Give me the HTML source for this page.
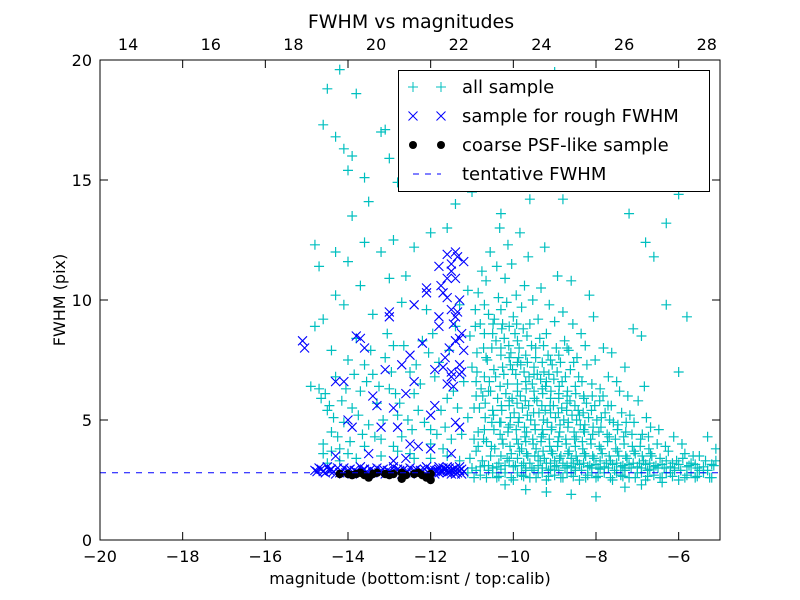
<!DOCTYPE html>
<html><head><meta charset="utf-8"><style>
html,body{margin:0;padding:0;background:#fff;}
svg{display:block;font-family:"DejaVu Sans","Liberation Sans",sans-serif;}
</style></head><body>
<svg id="chart" width="800" height="600" xmlns="http://www.w3.org/2000/svg">
<rect x="0" y="0" width="800" height="600" fill="#fff"/>
<g id="marks"></g>
<g id="axes"></g>
</svg>
<script>
const xTicks=[-20,-18,-16,-14,-12,-10,-8,-6];
const xTickLabels=["\u221220","\u221218","\u221216","\u221214","\u221212","\u221210","\u22128","\u22126"];
const topTicks=[14,16,18,20,22,24,26,28];
const yTicks=[0,5,10,15,20];
const topOffset=33.32;
const tentativeFWHM=2.8;
// all sample (cyan +): x,y pairs
const allSample=[
-14.2,19.6,-13.8,18.6,-14.5,18.8,-14.6,17.3,-14.3,16.8,-14.1,16.3,-13.9,16.0,-14.0,15.4,-13.6,15.1,-13.2,17.0,-13.1,17.1,-12.6,17.3,-12.2,16.4,-13.0,15.9,-12.8,14.9,-13.5,14.1,-13.9,13.5,-14.8,12.3,-14.3,12.0,-14.0,11.6,-13.6,12.4,-13.2,12.0,-12.9,12.5,-12.4,12.2,-12.0,12.8,-11.6,13.0,-11.4,14.0,-11.0,14.5,-10.5,15.0,-10.0,16.0,-9.5,18.5,-9.0,19.5,-8.2,19.2,-7.8,19.0,-7.3,16.8,-6.6,14.9,-6.0,14.4,-6.8,12.4,-6.6,11.8,-6.3,9.8,-5.8,9.3,-6.9,8.5,-6.0,7.0,-8.5,17.5,-9.8,17.2,-8.8,14.2,-7.2,13.6,-6.3,13.2,-10.3,13.6,-9.6,14.2,-11.8,16.5,-11.2,17.0,
-14.9,6.4,-14.7,6.3,-14.5,5.4,-14.4,4.5,-14.6,4.0,-14.2,3.8,-14.1,4.9,-14.3,6.8,-14.0,7.5,-13.8,8.4,-13.7,6.2,-13.9,5.5,-13.5,4.8,-13.3,5.7,-13.4,6.9,-13.1,7.6,-13.0,6.3,-12.8,5.2,-12.7,4.3,-12.9,3.9,-12.5,7.0,-12.4,6.1,-12.3,5.4,-12.2,8.3,-12.1,9.6,-12.0,4.6,-11.9,6.8,-11.8,7.4,-11.6,5.9,-11.5,4.2,-11.4,8.9,-11.3,9.8,-11.2,6.6,-14.6,9.2,-14.3,10.2,-14.7,11.4,-14.1,9.8,-13.7,10.6,-13.4,9.4,-13.0,10.9,-12.7,9.9,-12.6,11.0,-12.9,8.1,-13.6,7.3,-14.4,7.9,-14.8,8.9,-13.2,4.2,-12.5,3.6,-12.0,3.4,-11.7,3.8,-11.3,3.3,-13.8,3.4,-14.5,3.2,
-14.65,5.9,-14.55,6.1,-14.45,5.6,-14.35,5.1,-14.25,4.3,-14.15,5.8,-14.05,6.3,-13.95,4.1,-13.85,6.9,-13.75,5.2,-13.65,4.4,-13.55,6.6,-13.45,7.9,-13.35,4.3,-13.25,6.4,-13.15,5.0,-13.05,8.6,-12.95,7.0,-12.85,6.1,-12.75,5.7,-12.65,8.1,-12.55,5.0,-12.45,4.6,-12.35,7.3,-12.25,6.5,-12.15,4.9,-12.05,7.8,-11.95,8.6,-11.85,4.4,-11.75,5.4,-11.65,4.7,-11.55,7.9,-11.45,6.2,-11.35,5.5,-11.25,4.4,-14.6,3.6,-14.4,3.7,-14.2,3.3,-14.0,3.6,-13.6,3.9,-13.2,3.5,-12.8,3.7,-12.4,3.4,-12.0,4.0,-11.6,3.5,
-11.0,3.0,-11.05,3.4,-10.95,4.2,-11.1,5.1,-10.9,6.0,-11.0,7.2,-11.05,8.5,-10.92,9.6,-11.1,10.4,
-10.8,2.7,-10.75,3.3,-10.85,3.9,-10.7,4.6,-10.82,5.5,-10.78,6.3,-10.88,7.0,-10.72,8.0,-10.8,9.0,-10.85,10.3,-10.76,11.2,
-10.6,2.9,-10.55,3.5,-10.65,4.1,-10.52,4.9,-10.68,5.7,-10.58,6.6,-10.63,7.5,-10.5,8.6,-10.6,9.4,-10.66,10.8,-10.56,12.0,
-10.4,2.6,-10.35,3.2,-10.45,3.8,-10.32,4.4,-10.48,5.2,-10.38,5.9,-10.43,6.8,-10.3,7.7,-10.42,8.3,-10.46,9.2,-10.36,10.1,-10.4,11.4,-10.33,13.0,
-10.2,2.8,-10.15,3.4,-10.25,4.0,-10.12,4.7,-10.28,5.4,-10.18,6.1,-10.23,6.9,-10.1,7.6,-10.22,8.4,-10.26,9.0,-10.16,9.9,-10.2,10.9,-10.13,12.3,
-10.0,2.5,-9.95,3.1,-10.05,3.6,-9.92,4.2,-10.08,4.8,-9.98,5.3,-10.03,5.9,-9.9,6.5,-10.02,7.1,-10.06,7.8,-9.96,8.6,-10.0,9.3,-9.93,10.2,-10.04,11.5,
-9.8,2.7,-9.75,3.2,-9.85,3.7,-9.72,4.3,-9.88,4.9,-9.78,5.5,-9.83,6.0,-9.7,6.6,-9.82,7.3,-9.86,8.0,-9.76,8.8,-9.8,9.7,-9.73,10.6,-9.84,12.8,
-9.6,2.6,-9.55,3.0,-9.65,3.5,-9.52,4.0,-9.68,4.5,-9.58,5.0,-9.63,5.6,-9.5,6.2,-9.62,6.8,-9.66,7.4,-9.56,8.1,-9.6,9.0,-9.53,10.0,-9.64,11.8,
-9.4,2.8,-9.35,3.3,-9.45,3.8,-9.32,4.3,-9.48,4.8,-9.38,5.3,-9.43,5.8,-9.3,6.3,-9.42,6.9,-9.46,7.6,-9.36,8.4,-9.4,9.2,-9.33,10.5,
-9.2,2.5,-9.15,2.9,-9.25,3.4,-9.12,3.9,-9.28,4.4,-9.18,4.9,-9.23,5.4,-9.1,5.9,-9.22,6.4,-9.26,7.0,-9.16,7.7,-9.2,8.6,-9.13,9.8,-9.24,12.2,
-9.0,2.7,-8.95,3.1,-9.05,3.6,-8.92,4.1,-9.08,4.6,-8.98,5.1,-9.03,5.6,-8.9,6.1,-9.02,6.7,-9.06,7.3,-8.96,8.0,-9.0,9.1,-8.93,11.0,
-8.8,2.6,-8.75,3.0,-8.85,3.5,-8.72,4.0,-8.88,4.5,-8.78,5.0,-8.83,5.5,-8.7,6.0,-8.82,6.6,-8.86,7.4,-8.76,8.3,-8.8,9.5,
-8.6,2.8,-8.55,3.2,-8.65,3.7,-8.52,4.2,-8.68,4.7,-8.58,5.2,-8.63,5.8,-8.5,6.4,-8.62,7.1,-8.66,7.9,-8.56,9.0,-8.6,10.8,
-8.4,2.5,-8.35,2.9,-8.45,3.3,-8.32,3.8,-8.48,4.3,-8.38,4.8,-8.43,5.4,-8.3,6.0,-8.42,6.8,-8.46,7.6,-8.36,8.6,
-8.2,2.7,-8.15,3.1,-8.25,3.5,-8.12,4.0,-8.28,4.5,-8.18,5.1,-8.23,5.7,-8.1,6.5,-8.22,7.3,-8.26,8.1,-8.16,10.2,
-8.0,2.6,-7.95,3.0,-8.05,3.4,-7.92,3.9,-8.08,4.4,-7.98,5.0,-8.03,5.6,-7.9,6.3,-8.02,7.5,-8.06,9.3,
-7.8,2.8,-7.75,3.2,-7.85,3.6,-7.72,4.1,-7.88,4.7,-7.78,5.3,-7.83,6.0,-7.7,6.8,-7.82,8.0,
-7.6,2.5,-7.55,2.9,-7.65,3.3,-7.52,3.8,-7.68,4.3,-7.58,4.9,-7.63,5.6,-7.5,6.6,-7.62,7.8,
-7.4,2.7,-7.35,3.1,-7.45,3.5,-7.32,4.0,-7.48,4.6,-7.38,5.3,-7.43,6.2,-7.3,7.2,
-7.2,2.6,-7.15,3.0,-7.25,3.4,-7.12,3.9,-7.28,4.5,-7.18,5.2,-7.23,6.0,-7.1,8.8,
-7.0,2.8,-6.95,3.2,-7.05,3.6,-6.92,4.2,-7.08,4.9,-6.98,5.8,
-6.8,2.5,-6.75,2.9,-6.85,3.3,-6.72,3.8,-6.88,4.4,-6.78,5.1,-6.83,6.4,
-6.6,2.7,-6.55,3.1,-6.65,3.5,-6.52,4.0,-6.68,4.7,
-6.4,2.6,-6.35,3.0,-6.45,3.4,-6.32,3.9,-6.48,4.6,
-6.2,2.8,-6.15,3.2,-6.25,3.7,-6.12,4.3,
-6.0,2.5,-5.95,2.9,-6.05,3.3,-5.92,4.0,
-5.8,2.7,-5.75,3.1,-5.85,3.6,-5.6,2.6,-5.55,3.0,-5.65,3.5,-5.4,2.8,-5.35,3.3,-5.2,2.6,-5.15,3.1,-5.1,3.8,-5.3,4.3,
-10.9,2.9,-10.3,2.95,-9.7,2.9,-9.1,2.95,-8.5,2.9,-7.9,2.95,-7.3,2.9,-6.7,2.95,-6.1,2.9,-5.5,2.9,-11.1,2.8,-10.5,2.8,-9.9,2.8,-9.3,2.8,-8.7,2.8,-8.1,2.8,-7.5,2.8,-6.9,2.8,-6.3,2.8,-5.7,2.8,
-9.7,2.1,-9.2,2.0,-8.6,1.9,-8.0,1.8,-7.3,2.2,-10.2,2.3,-6.9,2.3,-6.4,2.4,
-9.9,6.2,-9.5,6.9,-9.1,5.3,-8.7,5.7,-9.3,4.6,-9.7,4.1,-10.1,5.6,-8.9,4.3,-8.5,3.9,-8.3,4.6,-9.8,3.8,-9.4,3.5,-9.0,3.3,-8.6,3.4,-10.3,4.9,-10.6,6.2,-9.9,7.4,-9.2,6.6,-8.9,5.9,-8.4,5.2,
-10.9,3.7,-10.85,4.5,-10.95,5.5,-10.9,6.6,-10.88,7.8,-10.92,8.9,-10.7,3.1,-10.72,4.2,-10.68,5.1,-10.74,6.0,-10.7,6.8,-10.66,7.6,-10.7,8.6,-10.7,9.8,
-10.5,3.0,-10.53,3.9,-10.47,4.6,-10.5,5.4,-10.55,6.2,-10.47,7.1,-10.52,8.0,-10.49,9.0,-10.3,3.5,-10.27,4.2,-10.33,4.9,-10.29,5.6,-10.32,6.4,-10.26,7.2,-10.3,8.0,-10.28,8.8,-10.3,9.6,
-10.1,3.3,-10.08,3.9,-10.13,4.5,-10.07,5.1,-10.1,5.8,-10.14,6.5,-10.07,7.3,-10.11,8.1,-10.1,8.9,-9.9,3.4,-9.88,4.0,-9.93,4.6,-9.86,5.1,-9.91,5.7,-9.94,6.9,-9.87,7.6,-9.9,8.3,-9.92,9.0,
-9.7,3.0,-9.68,3.6,-9.73,4.7,-9.66,5.2,-9.71,5.8,-9.69,6.3,-9.74,7.0,-9.7,7.7,-9.67,8.5,-9.5,2.9,-9.48,3.5,-9.53,4.2,-9.47,4.6,-9.51,5.3,-9.49,5.9,-9.54,6.5,-9.5,7.2,-9.46,8.0,
-9.3,3.0,-9.28,3.7,-9.33,4.1,-9.27,5.0,-9.31,5.6,-9.29,6.1,-9.34,6.7,-9.3,7.4,-9.27,8.1,-9.1,3.2,-9.08,3.7,-9.13,4.2,-9.07,4.7,-9.11,5.6,-9.09,6.2,-9.14,6.9,-9.1,7.5,
-8.9,2.9,-8.88,3.4,-8.93,3.9,-8.87,4.8,-8.91,5.3,-8.89,6.4,-8.94,7.0,-8.9,7.7,-8.7,3.1,-8.68,3.6,-8.73,4.2,-8.67,4.9,-8.71,5.4,-8.69,6.2,-8.74,6.8,-8.7,8.0,
-8.5,3.0,-8.48,3.5,-8.53,4.5,-8.47,5.0,-8.51,5.6,-8.49,6.1,-8.54,7.4,-8.3,3.2,-8.28,3.6,-8.33,4.1,-8.27,4.8,-8.31,5.3,-8.29,5.9,-8.34,6.6,
-8.1,3.0,-8.08,3.5,-8.13,4.2,-8.07,4.7,-8.11,5.4,-8.09,6.0,-7.9,3.3,-7.88,3.8,-7.93,4.5,-7.87,5.1,-7.91,5.8,-7.7,3.0,-7.68,3.5,-7.73,4.4,-7.67,5.0,-7.71,5.6,
-7.5,3.2,-7.48,3.7,-7.53,4.2,-7.47,4.8,-7.3,3.0,-7.28,3.5,-7.33,4.3,-7.27,4.9,-7.1,3.2,-7.08,3.7,-7.13,4.4,-6.9,3.0,-6.88,3.5,-6.93,3.9,-6.7,3.2,-6.68,3.6,-6.73,4.3,-6.5,3.0,-6.3,3.3,-6.1,3.0,-5.9,3.4,-5.7,3.2,-5.5,3.5,-5.3,2.9,-5.1,3.3,
-10.95,2.6,-10.65,2.6,-10.35,2.65,-10.05,2.6,-9.75,2.65,-9.45,2.6,-9.15,2.65,-8.85,2.6,-8.55,2.65,-8.25,2.6,-7.95,2.65,-7.65,2.6,-7.35,2.65,-7.05,2.6,-6.75,2.65,-6.45,2.6,-6.15,2.65,-5.85,2.6,-5.55,2.65,-5.25,2.6,
-10.8,3.05,-10.6,3.1,-10.4,3.05,-10.2,3.1,-10.0,3.05,-9.8,3.1,-9.6,3.2,-9.4,3.1,-9.2,3.2,-9.0,3.05,-8.8,3.2,-8.6,3.05,-8.4,3.15,-8.2,3.05,-8.0,3.15,-7.8,3.05,-7.6,3.15,-7.4,3.05,-7.2,3.15,-7.0,3.05,-6.8,3.15,-6.6,3.05,-6.4,3.15,-6.2,3.05,-6.0,3.15,-5.8,3.05,-5.6,3.15,-5.4,3.05,-5.2,3.15
];
// sample for rough FWHM (blue x)
const roughSample=[
-15.1,8.3,-15.05,8.0,-14.3,6.6,-14.1,6.6,-14.0,5.0,-13.9,4.7,-13.8,8.5,-13.7,8.4,-13.6,8.0,-13.4,6.0,-13.3,5.6,-13.2,4.7,-13.1,7.1,-13.0,9.5,-13.0,9.3,-12.9,5.5,-12.8,4.7,-12.7,7.3,-12.6,6.1,-12.5,7.7,-12.4,6.6,-12.5,4.0,-12.2,8.2,-12.1,10.5,-12.0,5.2,-11.9,5.6,-11.9,7.1,-11.8,8.9,-11.8,9.3,-11.7,10.3,-11.6,6.5,-11.5,7.0,-11.5,6.8,-11.4,8.3,-11.3,7.3,-11.3,8.4,-11.6,10.9,-11.5,11.5,-11.4,12.0,-11.2,11.6,-11.6,11.9,-11.8,11.4,-11.5,9.6,-11.4,9.3,-11.3,10.0,-11.2,7.9,-11.7,7.2,-11.4,4.9,-11.3,4.7,-12.0,3.8,-12.3,3.9,-13.5,3.6,-14.3,3.5,-11.5,3.6,-12.6,3.4,-12.9,3.3,
-11.45,9.0,-11.35,9.5,-11.55,8.0,-11.25,7.0,-11.65,7.6,-11.45,6.4,-11.3,6.9,-11.6,10.1,-11.75,10.6,-11.4,10.9,-11.5,11.2,-11.35,11.8,-11.25,8.6,-12.1,10.3,-12.4,9.8,
-14.8,2.9,-14.6,2.85,-14.4,2.95,-14.2,2.8,-14.0,2.9,-13.8,2.85,-13.6,2.95,-13.4,2.8,-13.2,2.9,-13.0,2.85,-12.8,2.95,-12.6,2.8,-12.4,2.9,-12.2,2.85,-12.0,2.95,-11.8,2.8,-11.6,2.9,-11.4,2.85,-11.25,2.95,
-14.7,3.0,-14.5,3.05,-14.3,2.75,-14.1,3.0,-13.9,2.75,-13.7,3.05,-13.5,2.75,-13.3,3.0,-13.1,2.75,-12.9,3.05,-12.7,2.75,-12.5,3.0,-12.3,2.75,-12.1,3.05,-11.9,2.75,-11.7,3.0,-11.5,2.75,-11.3,3.05,-11.35,2.8,-11.45,2.95,-11.55,2.85,-11.65,2.95,-11.75,2.85,-11.85,2.9,-11.95,2.85,-12.05,2.8,-12.15,2.95,
-14.75,2.85,-14.65,2.95,-14.55,2.8,-14.45,2.9,-14.35,2.85,-14.25,3.0,-14.15,2.85,-14.05,2.8,-13.95,2.95,-13.85,2.9,-13.75,2.8,-13.65,2.9,-13.55,2.85,-13.45,2.95,-13.35,2.85,-13.25,2.8,-13.15,2.95,-13.05,2.9,-12.95,2.8,-12.85,2.85,-12.75,2.9,-12.65,2.95,-12.55,2.85,-12.45,2.8,-12.35,2.95,-12.25,2.9,-11.2,2.85,-11.3,2.9,-11.4,3.0,-11.5,2.9,-11.6,2.8,-11.7,2.85,-11.8,2.95,-11.9,2.9,-12.0,2.85,-11.25,2.75,-11.4,2.75,-11.6,3.05,-11.8,3.05,-11.55,3.0
];
// coarse PSF-like sample (black dots)
const psfSample=[
-14.2,2.75,-14.0,2.75,-13.9,2.7,-13.7,2.8,-13.6,2.7,-13.4,2.75,-13.3,2.8,-13.1,2.75,-13.0,2.7,-12.9,2.75,-12.7,2.8,-12.6,2.7,-12.4,2.75,-12.3,2.8,-12.2,2.7,-12.1,2.6,-12.0,2.75,-12.0,2.5,-12.7,2.55,-13.5,2.6,-13.8,2.75
];
const L=100,R=720,T=60,B=540,XMIN=-20,XMAX=-5,YMIN=0,YMAX=20;
function xs(v){return L+(v-XMIN)/(XMAX-XMIN)*(R-L);}
function ys(v){return B-(v-YMIN)/(YMAX-YMIN)*(B-T);}
const NS="http://www.w3.org/2000/svg";
function mk(tag,attrs,parent){const e=document.createElementNS(NS,tag);for(const k in attrs)e.setAttribute(k,attrs[k]);parent.appendChild(e);return e;}
const marks=document.getElementById('marks');
const axes=document.getElementById('axes');
const svg=document.getElementById('chart');
const defs=mk('defs',{},svg);const cp=mk('clipPath',{id:'clip'},defs);mk('rect',{x:L,y:T,width:R-L,height:B-T},cp);
marks.setAttribute('clip-path','url(#clip)');
function plus(x,y,c,p){const s=5;return mk('path',{d:`M${x-s} ${y}H${x+s}M${x} ${y-s}V${y+s}`,stroke:c,'stroke-width':1.2,fill:'none'},p);}
function cross(x,y,c,p){const s=4.5;return mk('path',{d:`M${x-s} ${y-s}L${x+s} ${y+s}M${x-s} ${y+s}L${x+s} ${y-s}`,stroke:c,'stroke-width':1.1,fill:'none'},p);}
const gAll=mk('g',{},marks);


for(let i=0;i<allSample.length;i+=2){const e=plus(xs(allSample[i]),ys(allSample[i+1]),'#00bfbf',gAll);

}
const gRough=mk('g',{},marks);


for(let i=0;i<roughSample.length;i+=2){const e=cross(xs(roughSample[i]),ys(roughSample[i+1]),'#0000ff',gRough);

}
const gPsf=mk('g',{},marks);


for(let i=0;i<psfSample.length;i+=2){const e=mk('circle',{cx:xs(psfSample[i]),cy:ys(psfSample[i+1]),r:4.2,fill:'#000'},gPsf);

}
const tl=mk('line',{x1:L,x2:R,y1:ys(tentativeFWHM),y2:ys(tentativeFWHM),stroke:'#0000ff','stroke-width':1,'stroke-dasharray':'6,6'},marks);


const fr=mk('rect',{x:L,y:T,width:R-L,height:B-T,fill:'none',stroke:'#000','stroke-width':1},axes);


xTicks.forEach((v,i)=>{const x=xs(v);
mk('line',{x1:x,x2:x,y1:B,y2:B-8,stroke:'#000'},axes);
mk('line',{x1:x,x2:x,y1:T,y2:T+8,stroke:'#000'},axes);
const t=mk('text',{x:x,y:B+22,'font-size':16,'text-anchor':'middle'},axes);t.textContent=xTickLabels[i];

});
topTicks.forEach(v=>{const x=xs(v-topOffset);
const t=mk('text',{x:x,y:T-10,'font-size':16,'text-anchor':'middle'},axes);t.textContent=String(v);

});
yTicks.forEach(v=>{const y=ys(v);
mk('line',{x1:L,x2:L+8,y1:y,y2:y,stroke:'#000'},axes);
mk('line',{x1:R,x2:R-8,y1:y,y2:y,stroke:'#000'},axes);
const t=mk('text',{x:L-8,y:y+6,'font-size':16,'text-anchor':'end'},axes);t.textContent=String(v);

});
</script>
<svg style="position:absolute;left:0;top:0" width="800" height="600" xmlns="http://www.w3.org/2000/svg">
<text x="411" y="28" font-size="19" text-anchor="middle">FWHM vs magnitudes</text>
<text x="410" y="584" font-size="16" text-anchor="middle">magnitude (bottom:isnt / top:calib)</text>
<text transform="translate(65,300) rotate(-90)" font-size="16" text-anchor="middle">FWHM (pix)</text>
<g>
<rect x="398.5" y="70.5" width="311" height="121" fill="#fff" stroke="#000"/>
<g stroke="#00bfbf">
<path d="M408 87H418M413 82V92M436 87H446M441 82V92"/></g>
<text x="462" y="93" font-size="18">all sample</text>
<g stroke="#0000ff">
<path d="M408.5 111.5L417.5 120.5M408.5 120.5L417.5 111.5M436.5 111.5L445.5 120.5M436.5 120.5L445.5 111.5"/></g>
<text x="462" y="122" font-size="18">sample for rough FWHM</text>
<g><circle cx="413" cy="145" r="4"/><circle cx="441" cy="145" r="4"/></g>
<text x="462" y="151" font-size="18">coarse PSF-like sample</text>
<line x1="413" x2="441" y1="174" y2="174" stroke="#0000ff" stroke-dasharray="6,6"/>
<text x="462" y="180" font-size="18">tentative FWHM</text>
</g>
</svg>
</body></html>
